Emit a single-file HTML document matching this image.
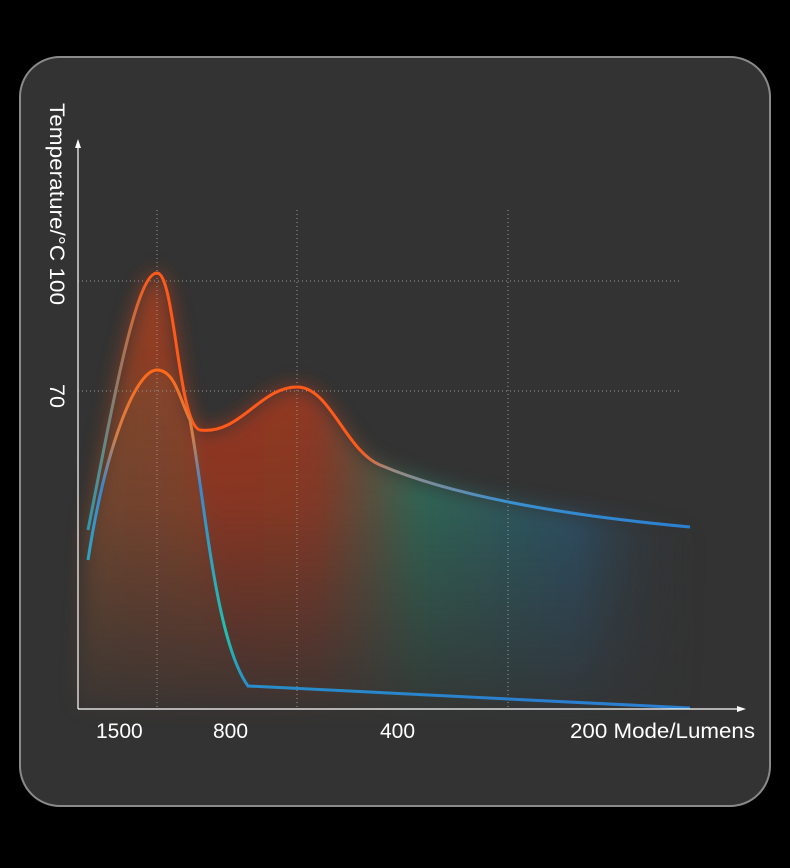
<!DOCTYPE html>
<html><head><meta charset="utf-8"><style>
html,body{margin:0;padding:0;background:#000;width:790px;height:868px;overflow:hidden}
svg{display:block}
text{font-family:"Liberation Sans",sans-serif;fill:#fff}
</style></head><body>
<svg width="790" height="868" viewBox="0 0 790 868" xmlns="http://www.w3.org/2000/svg">
<defs>
<linearGradient id="fillH" x1="78" y1="0" x2="700" y2="0" gradientUnits="userSpaceOnUse">
<stop offset="0" stop-color="#8a4a2a"/>
<stop offset="0.2" stop-color="#b0391c"/>
<stop offset="0.38" stop-color="#a83a20"/>
<stop offset="0.55" stop-color="#2f7a62"/>
<stop offset="0.8" stop-color="#2a5a7a"/>
<stop offset="1" stop-color="#333" stop-opacity="0"/>
</linearGradient>
<linearGradient id="fadeV" x1="0" y1="300" x2="0" y2="709" gradientUnits="userSpaceOnUse">
<stop offset="0" stop-color="#fff" stop-opacity="1"/>
<stop offset="0.5" stop-color="#fff" stop-opacity="0.75"/>
<stop offset="1" stop-color="#fff" stop-opacity="0.1"/>
</linearGradient>
<mask id="m"><rect x="0" y="0" width="790" height="868" fill="url(#fadeV)"/></mask>
<linearGradient id="upper" x1="88" y1="0" x2="690" y2="0" gradientUnits="userSpaceOnUse">
<stop offset="0" stop-color="#2a9ab0"/>
<stop offset="0.1" stop-color="#ff5a1a"/>
<stop offset="0.45" stop-color="#ff5a1a"/>
<stop offset="0.5" stop-color="#9a8a80"/>
<stop offset="0.7" stop-color="#3a90d0"/>
<stop offset="1" stop-color="#2a80d0"/>
</linearGradient>
<linearGradient id="lower" x1="0" y1="370" x2="0" y2="700" gradientUnits="userSpaceOnUse">
<stop offset="0" stop-color="#ff6a1a"/>
<stop offset="0.2" stop-color="#d0804a"/>
<stop offset="0.35" stop-color="#3a88d0"/>
<stop offset="0.8" stop-color="#20c0b0"/>
<stop offset="1" stop-color="#2a80d0"/>
</linearGradient>
<filter id="b"><feGaussianBlur stdDeviation="10"/></filter>
</defs>
<rect x="0" y="0" width="790" height="868" fill="#000"/>
<rect x="20" y="57" width="750" height="749" rx="40" fill="#333" stroke="#8a8a8a" stroke-width="2"/>
<g mask="url(#m)">
<path d="M88,530 C110,420 135,273 157,273 C175,273 178,425 200,430 C240,435 260,387 297,387 C330,387 345,450 380,465 C450,495 560,515 690,527 L690,709 L78,709 Z" fill="url(#fillH)" filter="url(#b)" opacity="0.9"/>
<path d="M88,560 C105,450 135,370 157,370 C175,370 180,400 190,420 C205,500 215,640 248,686 L690,708 L78,709 Z" fill="#7a5a3a" opacity="0.35" filter="url(#b)"/>
</g>
<g stroke="#9a9a9a" stroke-width="1" stroke-dasharray="1,3">
<line x1="78" y1="281" x2="680" y2="281"/>
<line x1="78" y1="391" x2="680" y2="391"/>
<line x1="157" y1="210" x2="157" y2="709"/>
<line x1="297" y1="210" x2="297" y2="709"/>
<line x1="508" y1="210" x2="508" y2="709"/>
</g>
<path d="M88,530 C110,420 135,273 157,273 C175,273 178,425 200,430 C240,435 260,387 297,387 C330,387 345,450 380,465 C450,495 560,515 690,527" fill="none" stroke="url(#upper)" stroke-width="3"/>
<path d="M88,560 C105,450 135,370 157,370 C175,370 180,400 190,420 C205,500 215,640 248,686 L690,708" fill="none" stroke="url(#lower)" stroke-width="3"/>
<g stroke="#fff" stroke-width="1.2">
<line x1="78" y1="709" x2="78" y2="145"/>
<line x1="78" y1="709" x2="740" y2="709"/>
</g>
<path d="M78,139 L75,148 L81,148 Z" fill="#fff"/>
<path d="M746,709 L737,706 L737,712 Z" fill="#fff"/>
<text font-size="21.5" transform="translate(50,103) rotate(90)" textLength="202" lengthAdjust="spacingAndGlyphs">Temperature/°C 100</text>
<text font-size="21.5" transform="translate(50,384) rotate(90)">70</text>
<text font-size="21" x="96" y="738">1500</text>
<text font-size="21" x="213" y="738">800</text>
<text font-size="21" x="380" y="738">400</text>
<text font-size="21" x="570" y="738" textLength="185" lengthAdjust="spacingAndGlyphs">200 Mode/Lumens</text>
</svg>
</body></html>
